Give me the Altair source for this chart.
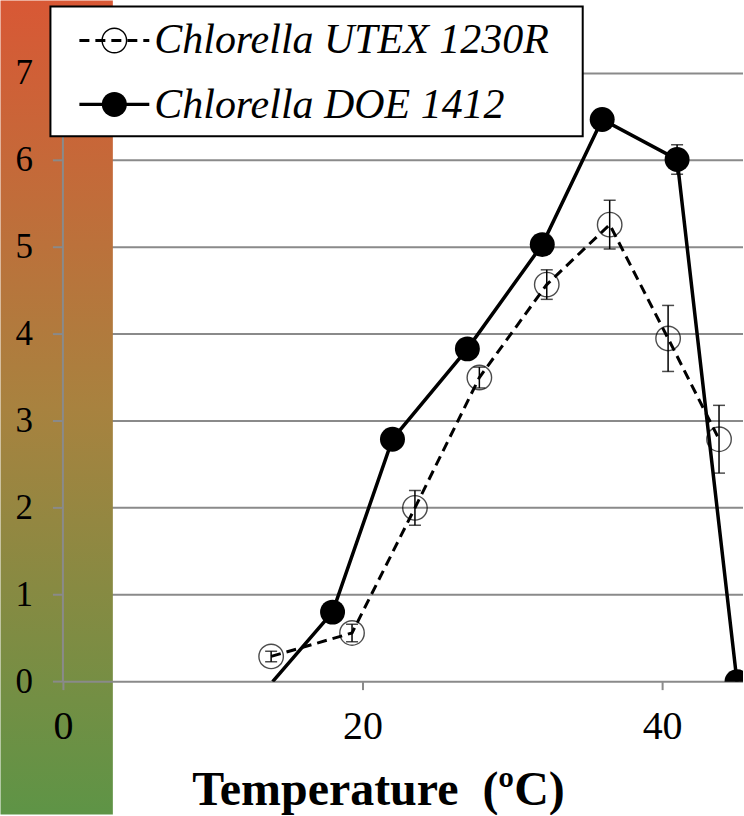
import altair as alt
import pandas as pd

# ---------------- data ----------------
series_names = ["Chlorella UTEX 1230R", "Chlorella DOE 1412"]

utex_temp = [13.9, 19.3, 23.5, 27.8, 32.3, 36.5, 40.4, 43.8]
utex_rate = [0.29, 0.56, 2.00, 3.50, 4.57, 5.26, 3.95, 2.79]
utex_err = [0.06, 0.10, 0.20, 0.12, 0.17, 0.28, 0.38, 0.39]

doe_temp = [14.0, 18.0, 22.0, 27.0, 32.0, 36.0, 41.0, 45.0]
doe_rate = [0.00, 0.80, 2.79, 3.83, 5.03, 6.47, 6.01, 0.00]
doe_err = [0.0, 0.0, 0.0, 0.0, 0.0, 0.0, 0.17, 0.0]
doe_marker = [False, True, True, True, True, True, True, True]

x_ticks = [0, 20, 40]
y_ticks = [0, 1, 2, 3, 4, 5, 6, 7]
x_title = "Temperature\u00a0 (\u00baC)"

# ---------------- style ----------------
FONT = "Liberation Serif"
GRAY = "#8a8a8a"
W, H = 681, 609
xs = alt.Scale(domain=[0, 45.4], nice=False, zero=False)
ys = alt.Scale(domain=[0, 7], nice=False, zero=False)

utex = pd.DataFrame({"temp": utex_temp, "rate": utex_rate,
                     "lo": [r - e for r, e in zip(utex_rate, utex_err)],
                     "hi": [r + e for r, e in zip(utex_rate, utex_err)],
                     "err": utex_err})
doe = pd.DataFrame({"temp": doe_temp, "rate": doe_rate,
                    "lo": [r - e for r, e in zip(doe_rate, doe_err)],
                    "hi": [r + e for r, e in zip(doe_rate, doe_err)],
                    "err": doe_err, "marker": doe_marker})
ytick_df = pd.DataFrame({"v": y_ticks})
grid_df = pd.DataFrame({"v": [v for v in y_ticks if v > 0]})
zero_df = pd.DataFrame({"v": [y_ticks[0]]})
one = pd.DataFrame({"a": [0]})

x_axis = alt.Axis(values=x_ticks, format="d", domain=False, grid=False,
                  ticks=True, tickSize=8, tickColor=GRAY, tickWidth=2,
                  labelFont=FONT, labelFontSize=40, labelColor="black",
                  labelPadding=49, labelBaseline="alphabetic",
                  labelFlush=False, labelOverlap=False,
                  title=x_title, titleFont=FONT, titleFontSize=48,
                  titleFontWeight="bold", titleColor="black",
                  titleX=315.5, titleY=123, titleAlign="center",
                  titleBaseline="alphabetic", zindex=1)

X = lambda f="temp": alt.X(f"{f}:Q", scale=xs, axis=x_axis)
Y = lambda f="rate": alt.Y(f"{f}:Q", scale=ys, axis=None)

gradient = alt.LinearGradient(
    gradient="linear", x1=0, x2=0, y1=0, y2=1,
    stops=[alt.GradientStop(color="#D85835", offset=0),
           alt.GradientStop(color="#A8823F", offset=0.5),
           alt.GradientStop(color="#5E9446", offset=1)])

grid = alt.Chart(grid_df).mark_rule(color=GRAY, strokeWidth=2).encode(y=Y("v"))
strip = alt.Chart(one).mark_rect(fill=gradient).encode(
    x=alt.value(-62.5), x2=alt.value(50), y=alt.value(-73), y2=alt.value(742))
zero = alt.Chart(zero_df).mark_rule(color=GRAY, strokeWidth=2).encode(y=Y("v"))
ydomain = alt.Chart(one).mark_rule(color=GRAY, strokeWidth=2).encode(
    x=alt.X(datum=x_ticks[0], scale=xs, axis=x_axis),
    y=alt.Y(datum=y_ticks[0], scale=ys, axis=None),
    y2=alt.Y2(datum=y_ticks[-1]))
yticks = alt.Chart(ytick_df).mark_rule(color=GRAY, strokeWidth=2).encode(
    x=alt.value(-10), x2=alt.value(0), y=Y("v"))
ylabels = alt.Chart(ytick_df).mark_text(
    align="right", baseline="middle", font=FONT, fontSize=35, color="black"
).encode(x=alt.value(-30), y=Y("v"), text=alt.Text("v:Q", format="d"))

# UTEX series
utex_line = alt.Chart(utex).mark_line(
    color="black", strokeWidth=3, strokeDash=[10, 6], clip=True
).encode(x=X(), y=Y())
utex_bar = alt.Chart(utex).mark_rule(color="black", strokeWidth=1.5, clip=True).encode(
    x=X(), y=Y("lo"), y2="hi")
utex_cap_lo = alt.Chart(utex).mark_tick(orient="horizontal", size=12, thickness=1.5,
                                       color="black", clip=True).encode(x=X(), y=Y("lo"))
utex_cap_hi = alt.Chart(utex).mark_tick(orient="horizontal", size=12, thickness=1.5,
                                       color="black", clip=True).encode(x=X(), y=Y("hi"))
utex_pts = alt.Chart(utex).mark_point(shape="circle", size=600, filled=False,
                                      color="black", strokeWidth=1.4, clip=True
                                      ).encode(x=X(), y=Y())

# DOE series
doe_line = alt.Chart(doe).mark_line(color="black", strokeWidth=3.5, clip=True).encode(
    x=X(), y=Y())
doe_errs = doe[doe.err > 0]
doe_bar = alt.Chart(doe_errs).mark_rule(color="black", strokeWidth=1.5, clip=True).encode(
    x=X(), y=Y("lo"), y2="hi")
doe_cap_lo = alt.Chart(doe_errs).mark_tick(orient="horizontal", size=12, thickness=1.5,
                                          color="black", clip=True).encode(x=X(), y=Y("lo"))
doe_cap_hi = alt.Chart(doe_errs).mark_tick(orient="horizontal", size=12, thickness=1.5,
                                          color="black", clip=True).encode(x=X(), y=Y("hi"))
doe_pts = alt.Chart(doe[doe.marker]).mark_point(shape="circle", size=625, filled=True,
                                                color="black", opacity=1, clip=True
                                                ).encode(x=X(), y=Y())

# legend (manual box)
leg_box = alt.Chart(one).mark_rect(fill="white", stroke="black", strokeWidth=2).encode(
    x=alt.value(-12.5), x2=alt.value(520.5), y=alt.value(-67), y2=alt.value(63))
leg = []
rows = [(-33, -20, [10, 6], False), (31, 45, None, True)]
for name, (ym, yb, dash, filled) in zip(series_names, rows):
    kw = dict(color="black", strokeWidth=3.2)
    if dash:
        kw["strokeDash"] = dash
    leg.append(alt.Chart(one).mark_rule(**kw).encode(
        x=alt.value(16.5), x2=alt.value(86.5), y=alt.value(ym)))
    leg.append(alt.Chart(one).mark_point(
        shape="circle", size=625 if filled else 600, filled=filled, color="black",
        strokeWidth=1.4, opacity=1).encode(x=alt.value(51.5), y=alt.value(ym)))
    leg.append(alt.Chart(one).mark_text(
        align="left", baseline="alphabetic", font=FONT, fontSize=42,
        fontStyle="italic", color="black").encode(
        x=alt.value(91.5), y=alt.value(yb), text=alt.value(name)))

chart = alt.layer(
    grid, strip, zero, ydomain, yticks, ylabels,
    utex_line, utex_bar, utex_cap_lo, utex_cap_hi, utex_pts,
    doe_line, doe_bar, doe_cap_lo, doe_cap_hi, doe_pts,
    leg_box, *leg
).properties(width=W, height=H, padding=0, background="white"
).configure_view(stroke=None)

chart.save("out.html", embed_options={"renderer": "svg", "actions": False})
